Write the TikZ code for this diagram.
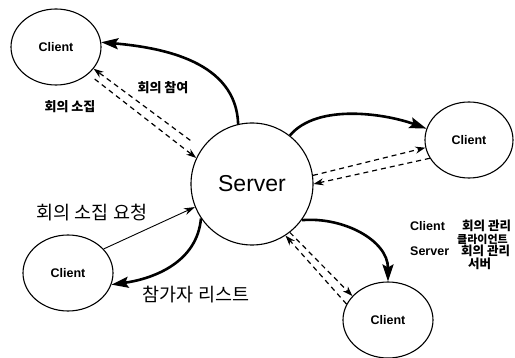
\documentclass[tikz,border=0pt]{standalone}
\usepackage{fontspec}
\setmainfont{Liberation Sans}
\newfontfamily\kr{Noto Sans CJK KR}
\usepackage{tikz}
\usetikzlibrary{shapes.geometric,arrows.meta}
\tikzset{
  client/.style={draw, ellipse, line width=1.1pt, inner sep=0pt, minimum width=90pt, minimum height=76pt,
                 font=\bfseries\fontsize{12.5}{14}\selectfont},
  heavy/.style={-{Stealth[length=17pt,width=11pt,inset=3pt]}, line width=2.6pt},
  msg/.style={-{Stealth[length=10pt,width=7pt]}, dash pattern=on 5pt off 4pt, line width=1.2pt},
  thinarrow/.style={-{Stealth[length=11pt,width=7pt]}, line width=0.9pt},
  tag/.style={font=\kr\bfseries\fontsize{13}{15}\selectfont},
  biglabel/.style={font=\kr\fontsize{18.5}{20}\selectfont},
  legend/.style={anchor=west, inner sep=0pt, font=\bfseries\fontsize{12.5}{14}\selectfont},
  legendkr/.style={anchor=west, inner sep=0pt, font=\kr\bfseries\fontsize{12.5}{14}\selectfont},
}

\begin{document}
\begin{tikzpicture}[x=1pt,y=-1pt]
\useasboundingbox (0,0) rectangle (515,358);

\node[draw, circle, line width=1.1pt, minimum size=122pt, inner sep=0pt, font=\fontsize{23}{26}\selectfont] (server) at (252,184) {Server};
\node[client] (cliTL) at (56,47) {Client};
\node[client, minimum width=88pt] (cliR) at (469,140) {Client};
\node[client] (cliBL) at (68,273) {Client};
\node[client] (cliBR) at (388,320) {Client};

% top left
\draw[heavy] (server.103) to[out=92,in=-5] (cliTL.6);
\draw[msg, shorten <=14pt] (server.145) -- (cliTL.-30);
\draw[msg, shorten <=8pt] (cliTL.-40) -- (server.155);
\node[tag] (tJoin) at (163,88) {회의 참여};
\node[tag] (tCall) at (70,107) {회의 소집};

% right
\draw[heavy] (server.52) to[out=50,in=160,looseness=0.8] (cliR.165);
\draw[msg] (server.8) -- (cliR.190);
\draw[msg] (cliR.205) -- (server.0);

% bottom right
\draw[heavy] (server.-36) to[out=5,in=90] (cliBR.north);
\draw[msg] (server.-52) -- (cliBR.146);
\draw[msg] (cliBR.159) -- (server.-57);

% bottom left
\draw[thinarrow] (cliBL.34) -- (server.202);
\draw[heavy] (server.214) to[out=-95,in=8] (cliBL.-15);
\node[biglabel] (tReq) at (92,213) {회의 소집 요청};
\node[biglabel] (tList) at (196,295) {참가자 리스트};

% legend
\node[legend] (legC) at (410,226) {Client};
\node[legendkr] (legCa) at (462,226) {회의 관리};
\node[legendkr, font=\kr\bfseries\fontsize{11}{13}\selectfont] (legCb) at (457,239) {클라이언트};
\node[legend] (legS) at (410,251) {Server};
\node[legendkr] (legSa) at (461,251) {회의 관리};
\node[legendkr] (legSb) at (468,264) {서버};
\end{tikzpicture}
\end{document}
